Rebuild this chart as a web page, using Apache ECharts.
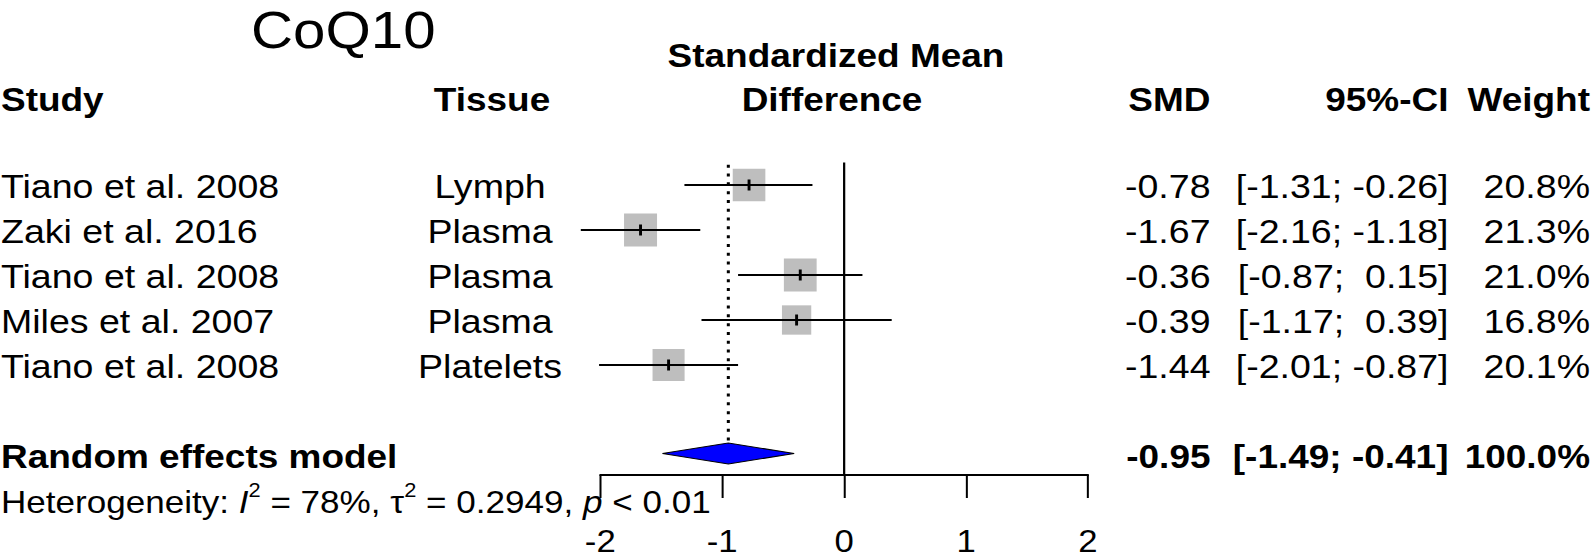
<!DOCTYPE html>
<html>
<head>
<meta charset="utf-8">
<script src="https://cdn.jsdelivr.net/npm/echarts@6/dist/echarts.min.js"></script>
<style>
html, body { margin: 0; padding: 0; background: #fff; overflow: hidden; }
#wrap { width: 1592px; height: 558px; overflow: hidden; position: relative; background: #fff; }
#chart { width: 1421px; height: 558px; transform: scaleX(1.120338); transform-origin: 0 0; }
</style>
</head>
<body>
<div id="wrap"><div id="chart"></div></div>
<script>
// ---------------- data ----------------
const chartTitle = 'CoQ10';
const headStudy = 'Study';
const headTissue = 'Tissue';
const headEffect = ['Standardized Mean', 'Difference'];
const headSmd = 'SMD';
const headCi = '95%-CI';
const headWeight = 'Weight';

const studies = ['Tiano et al. 2008', 'Zaki et al. 2016', 'Tiano et al. 2008', 'Miles et al. 2007', 'Tiano et al. 2008'];
const tissues = ['Lymph', 'Plasma', 'Plasma', 'Plasma', 'Platelets'];
const smd = [-0.78, -1.67, -0.36, -0.39, -1.44];
const ciLower = [-1.31, -2.16, -0.87, -1.17, -2.01];
const ciUpper = [-0.26, -1.18, 0.15, 0.39, -0.87];
const weights = [20.8, 21.3, 21.0, 16.8, 20.1];

const pooledLabel = 'Random effects model';
const pooledSmd = [-0.95];
const pooledLower = [-1.49];
const pooledUpper = [-0.41];
const pooledWeight = [100.0];

const hetI2 = '78%';
const hetTau2 = '0.2949';
const hetP = '< 0.01';

const xTicks = [-2, -1, 0, 1, 2];

// ---------------- layout / style ----------------
const SX = 1592 / 1421;               // horizontal stretch of the reference
const cx = v => v / SX;               // reference x -> container x
const FONT = '"Liberation Sans", Arial, Helvetica, sans-serif';
const FS = 33.5, FS_BOLD = 33, FS_HET = 31.3, FS_SUP = 19.5, FS_AXIS = 31, FS_TITLE = 52;
const TDY = 1.5;                      // small vertical text offset
const ROW_MAX = 67 / 9;               // y-axis range in row slots
const POOLED_ROW = 7;
const COL = { study: cx(1), tissue: cx(490), smd: cx(1210.5), ci: cx(1448.5), weight: cx(1590) };
const SQ_K = 33 / Math.sqrt(21.3);    // square side (px) per sqrt(weight)

function fmtCi(v) { return (v < 0 ? '' : ' ') + v.toFixed(2); }

function T(text, x, y, align, o) {
  o = o || {};
  return {
    type: 'text', x: x, y: y, silent: true,
    style: {
      text: text, fill: '#000', fontFamily: FONT, fontSize: o.size || (o.bold ? FS_BOLD : FS),
      fontWeight: o.bold ? 'bold' : 'normal', fontStyle: 'normal', lineHeight: o.lh || 40,
      align: align, textAlign: align, verticalAlign: 'middle', textVerticalAlign: 'middle'
    }
  };
}

const studyData = studies.map((s, i) => [smd[i], i + 1, ciLower[i], ciUpper[i], weights[i], i]);
const pooledData = pooledSmd.map((v, i) => [v, POOLED_ROW, pooledLower[i], pooledUpper[i], pooledWeight[i]]);

const chart = echarts.init(document.getElementById('chart'), null, { renderer: 'svg' });

chart.setOption({
  animation: false,
  backgroundColor: '#fff',
  grid: {
    left: cx(600.3), right: 1421 - cx(1088), top: 140, height: 335,
    containLabel: false, outerBoundsMode: 'none'
  },
  xAxis: {
    type: 'value', min: xTicks[0], max: xTicks[xTicks.length - 1], interval: xTicks[1] - xTicks[0],
    position: 'bottom',
    axisLine: { show: true, onZero: false, lineStyle: { color: '#000', width: 2 } },
    axisTick: { show: true, inside: false, length: 23, lineStyle: { color: '#000', width: 1.8 } },
    axisLabel: { show: true, color: '#000', fontSize: FS_AXIS, fontFamily: FONT, lineHeight: 24, margin: 54 },
    splitLine: { show: false }
  },
  yAxis: { type: 'value', min: 0, max: ROW_MAX, inverse: true, show: false },
  graphic: [
    T(chartTitle, cx(251), 30, 'left', { size: FS_TITLE, lh: 44 }),
    T(headEffect[0], cx(836), 54 + TDY, 'center', { bold: true }),
    T(headStudy, COL.study, 98 + TDY, 'left', { bold: true }),
    T(headTissue, cx(492), 98 + TDY, 'center', { bold: true }),
    T(headEffect[1], cx(832), 98 + TDY, 'center', { bold: true }),
    T(headSmd, COL.smd, 98 + TDY, 'right', { bold: true }),
    T(headCi, COL.ci, 98 + TDY, 'right', { bold: true }),
    T(headWeight, COL.weight, 98 + TDY, 'right', { bold: true }),
    {
      type: 'text', x: COL.study, y: 502, silent: true,
      style: {
        text: 'Heterogeneity: {it|I}{sup|2} = ' + hetI2 + ', τ{sup|2} = ' + hetTau2 + ', {it|p} ' + hetP,
        fill: '#000', fontFamily: FONT, fontSize: FS_HET, lineHeight: 44,
        align: 'left', textAlign: 'left', verticalAlign: 'middle', textVerticalAlign: 'middle',
        rich: {
          it: { fontFamily: FONT, fontSize: FS_HET, fontStyle: 'italic', lineHeight: 44, fill: '#000' },
          sup: { fontFamily: FONT, fontSize: FS_SUP, lineHeight: 13, verticalAlign: 'top', fill: '#000' }
        }
      }
    }
  ],
  series: [
    {
      // line of no effect
      type: 'custom', silent: true, clip: false,
      data: [[0, 0.5]],
      renderItem: function (params, api) {
        const p1 = api.coord([api.value(0), api.value(1)]);
        const p2 = api.coord([api.value(0), ROW_MAX]);
        return { type: 'line', shape: { x1: p1[0], y1: p1[1], x2: p2[0], y2: p2[1] },
                 style: { stroke: '#000', lineWidth: 2 } };
      }
    },
    {
      type: 'custom', silent: true, clip: false,
      data: studyData,
      renderItem: function (params, api) {
        const i = api.value(5);
        const pe = api.coord([api.value(0), api.value(1)]);
        const y = pe[1];
        const xl = api.coord([api.value(2), api.value(1)])[0];
        const xu = api.coord([api.value(3), api.value(1)])[0];
        const side = SQ_K * Math.sqrt(api.value(4));
        const w = side / SX, h = side;
        const ty = y + TDY;
        return {
          type: 'group',
          children: [
            { type: 'rect', shape: { x: pe[0] - w / 2, y: y - h / 2, width: w, height: h },
              style: { fill: '#bebebe' } },
            { type: 'line', shape: { x1: xl, y1: y, x2: xu, y2: y }, style: { stroke: '#000', lineWidth: 2 } },
            { type: 'line', shape: { x1: pe[0], y1: y - 5.5, x2: pe[0], y2: y + 5.5 }, style: { stroke: '#000', lineWidth: 2.6 } },
            T(studies[i], COL.study, ty, 'left'),
            T(tissues[i], COL.tissue, ty, 'center'),
            T(smd[i].toFixed(2), COL.smd, ty, 'right'),
            T('[' + fmtCi(ciLower[i]) + '; ' + fmtCi(ciUpper[i]) + ']', COL.ci, ty, 'right'),
            T(weights[i].toFixed(1) + '%', COL.weight, ty, 'right')
          ]
        };
      }
    },
    {
      type: 'custom', silent: true, clip: false,
      data: pooledData,
      renderItem: function (params, api) {
        const pe = api.coord([api.value(0), api.value(1)]);
        const y = pe[1] - 1.5;
        const xl = api.coord([api.value(2), api.value(1)])[0];
        const xu = api.coord([api.value(3), api.value(1)])[0];
        const hh = 10.5;
        const top = api.coord([api.value(0), 0.55])[1];
        const ty = pe[1] + TDY;
        return {
          type: 'group',
          children: [
            { type: 'line', shape: { x1: pe[0], y1: top, x2: pe[0], y2: y - hh },
              style: { stroke: '#000', lineWidth: 2.7, lineDash: [3, 5.8] } },
            { type: 'polygon', shape: { points: [[xl, y], [pe[0], y - hh], [xu, y], [pe[0], y + hh]] },
              style: { fill: '#0000ff', stroke: '#000', lineWidth: 1 } },
            T(pooledLabel, COL.study, ty, 'left', { bold: true }),
            T(api.value(0).toFixed(2), COL.smd, ty, 'right', { bold: true }),
            T('[' + fmtCi(api.value(2)) + '; ' + fmtCi(api.value(3)) + ']', COL.ci, ty, 'right', { bold: true }),
            T(api.value(4).toFixed(1) + '%', COL.weight, ty, 'right', { bold: true })
          ]
        };
      }
    }
  ]
});
</script>
</body>
</html>
